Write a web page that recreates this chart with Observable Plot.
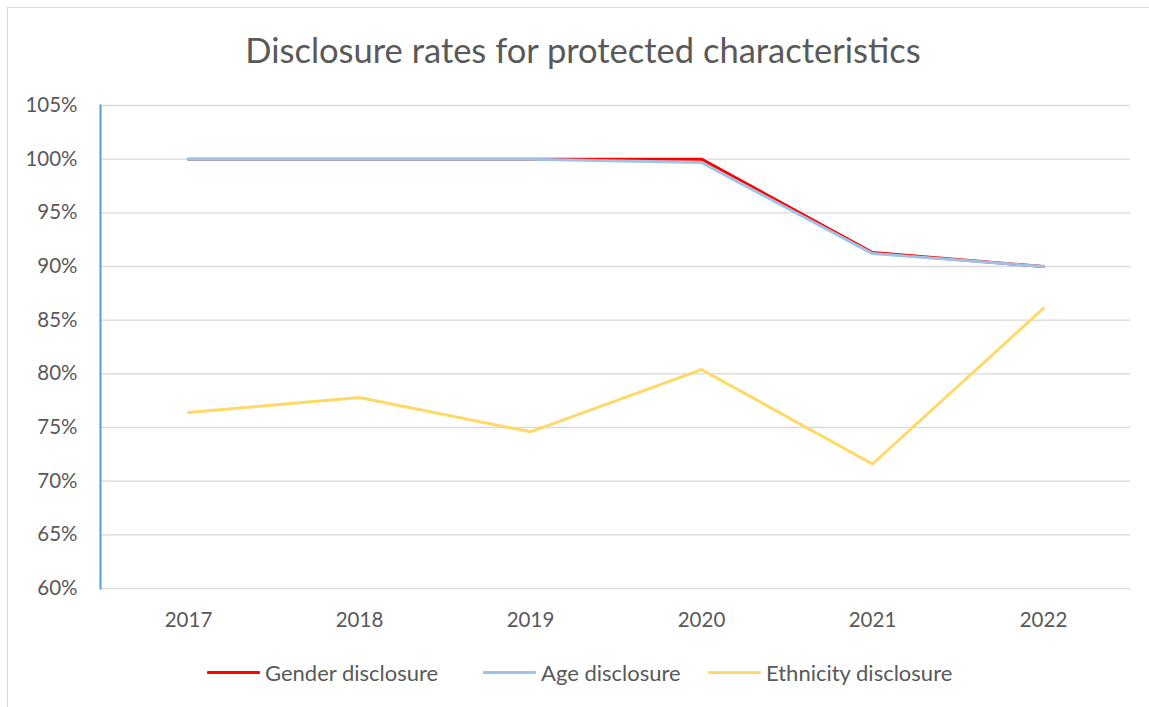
<!DOCTYPE html>
<html>
<head>
<meta charset="utf-8">
<script src="https://cdn.jsdelivr.net/npm/d3@7"></script>
<script src="https://cdn.jsdelivr.net/npm/@observablehq/plot@0.6"></script>
<style>
  html, body { margin: 0; padding: 0; background: #fff; }
  body { width: 1149px; height: 707px; position: relative; overflow: hidden; font-family: Lato, "Open Sans", sans-serif; }
  #frame { position: absolute; left: 7px; top: 7px; width: 1145px; height: 710px; border: 1px solid #d9d9d9; box-sizing: border-box; }
  #chart { position: absolute; left: 0; top: 0; }
  #title { position: absolute; left: 0; width: 1166px; top: 29px; text-align: center; font-size: 34.5px; color: #595959; }
  #legend { position: absolute; top: 659px; left: 0; width: 1149px; height: 26px; }
  .item { position: absolute; top: 0; display: flex; align-items: center; font-size: 22px; color: #595959; }
  .sw { width: 53px; height: 3px; margin-right: 5px; border-radius: 1px; }
</style>
</head>
<body>
<div id="frame"></div>
<div id="chart"></div>
<div id="title">Disclosure rates for protected characteristics</div>
<div id="legend"></div>
<script>
const years = ["2017", "2018", "2019", "2020", "2021", "2022"];
const gender = [1.0, 1.0, 1.0, 1.0, 0.913, 0.90];
const age = [1.0, 1.0, 1.0, 0.997, 0.912, 0.90];
const ethnicity = [0.764, 0.778, 0.746, 0.804, 0.716, 0.861];
const yTicks = [0.60, 0.65, 0.70, 0.75, 0.80, 0.85, 0.90, 0.95, 1.00, 1.05];
const seriesNames = ["Gender disclosure", "Age disclosure", "Ethnicity disclosure"];
const seriesColors = ["#ff0000", "#9dc3e6", "#ffd966"];

const rows = (vals, name) => years.map((y, i) => ({year: y, value: vals[i], series: name}));
const gRows = rows(gender, seriesNames[0]);
const aRows = rows(age, seriesNames[1]);
const eRows = rows(ethnicity, seriesNames[2]);

const plot = Plot.plot({
  width: 1149,
  height: 707,
  marginLeft: 100,
  marginRight: 19,
  marginTop: 105,
  marginBottom: 119,
  style: {background: "transparent", fontFamily: "Lato, 'Open Sans', sans-serif", fontSize: "20.5px", color: "#595959"},
  x: {type: "point", domain: years, padding: 0.5, label: null},
  y: {domain: [0.60, 1.05], ticks: yTicks, label: null},
  marks: [
    Plot.gridY(yTicks, {stroke: "#d9d9d9", strokeOpacity: 1, strokeWidth: 1.3}),
    Plot.axisY(yTicks, {tickSize: 0, tickPadding: 23, tickFormat: d => Math.round(d * 100) + "%", fill: "#595959", fontSize: 20.5}),
    Plot.axisX({tickSize: 0, tickPadding: 24, fill: "#595959", fontSize: 20.5}),
    Plot.frame({anchor: "left", stroke: "#5b9bd5", strokeWidth: 2}),
    Plot.line(eRows, {x: "year", y: "value", stroke: seriesColors[2], strokeWidth: 3}),
    Plot.line(gRows, {x: "year", y: "value", stroke: seriesColors[0], strokeWidth: 3}),
    Plot.line(aRows, {x: "year", y: "value", stroke: seriesColors[1], strokeWidth: 3})
  ]
});
document.getElementById("chart").appendChild(plot);

const legend = document.getElementById("legend");
const lefts = [207, 483, 708];
seriesNames.forEach((name, i) => {
  const it = document.createElement("div");
  it.className = "item";
  it.style.left = lefts[i] + "px";
  it.innerHTML = `<div class="sw" style="background:${seriesColors[i]}"></div><span>${name}</span>`;
  legend.appendChild(it);
});
</script>
</body>
</html>
